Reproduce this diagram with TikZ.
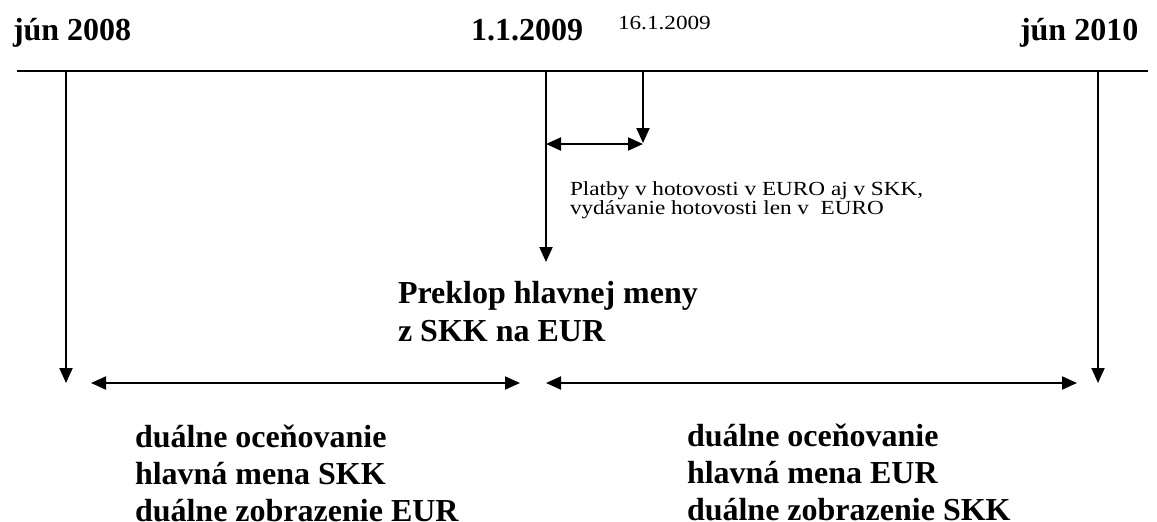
\documentclass[tikz,border=0pt]{standalone}
\usepackage{fontspec}
\setmainfont{Liberation Serif}
\newfontfamily\smallserif[FakeStretch=1.16]{Liberation Serif}
\usetikzlibrary{positioning,arrows.meta}

\begin{document}
\begin{tikzpicture}[
    x=0.5pt, y=-0.5pt,
    >={Triangle[length=7.5pt,width=6.5pt]},
    line width=1pt,
    date/.style={anchor=base west, inner sep=0pt,
                 font=\bfseries\fontsize{16}{18.5}\selectfont},
    note/.style={anchor=base west, inner sep=0pt, align=left,
                 font=\smallserif\fontsize{10}{9.5}\selectfont},
    phase/.style={anchor=base west, inner sep=0pt, align=left,
                 font=\bfseries\fontsize{16}{18.5}\selectfont},
    arr/.style={->},
    span/.style={<->},
]
\useasboundingbox (0,0) rectangle (1157,521);

% time line
\coordinate (lstart) at (17,71);
\coordinate (lend) at (1148,71);
\draw (lstart) -- (lend);

\node[date] (jun08) at (12,40) {jún 2008};
\node[date] (jan09) at (470,40) {1.1.2009};
\node[note] (jan16) at (617,29) {16.1.2009};
\node[date] (jun10) at (1019,40) {jún 2010};

% marks on the line
\coordinate (t08) at (66,71);
\coordinate (t09) at (546,71);
\coordinate (t16) at (643,71);
\coordinate (t10) at (1098,71);
\coordinate (e08) at (66,383);
\coordinate (e09) at (546,262);
\coordinate (e16) at (643,143);
\coordinate (e10) at (1098,383);
\draw[arr] (t08) -- (e08);
\draw[arr] (t09) -- (e09);
\draw[arr] (t16) -- (e16);
\draw[arr] (t10) -- (e10);

% dual period
\coordinate (d1) at (546,144);
\draw[span] (d1) -- (e16 |- d1);
\node[note] (cash) at (569,214) {Platby v hotovosti v EURO aj v SKK,\\
    vydávanie hotovosti len v~ EURO};

\node[phase, font=\bfseries\fontsize{16}{19}\selectfont] (switch) at (397,341)
    {Preklop hlavnej meny\\z SKK na EUR};

% phases
\coordinate (pa1) at (91,383);
\coordinate (pa2) at (520,383);
\coordinate (pb1) at (546,383);
\coordinate (pb2) at (1077,383);
\draw[span] (pa1) -- (pa2);
\draw[span] (pb1) -- (pb2);

\node[phase] (skkphase) at (134,521) {duálne oceňovanie\\
    hlavná mena SKK\\duálne zobrazenie EUR};
\node[phase] (eurphase) at (686,520) {duálne oceňovanie\\
    hlavná mena EUR\\duálne zobrazenie SKK};
\end{tikzpicture}
\end{document}
